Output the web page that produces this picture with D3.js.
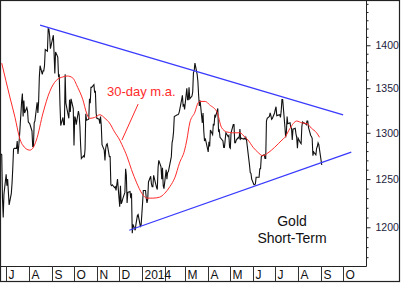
<!DOCTYPE html>
<html>
<head>
<meta charset="utf-8">
<style>
    body { margin: 0; background: #fff; }
    svg { display: block; font-family: Arial, 'Liberation Sans', sans-serif; }
    .y .domain { display: none; }
    .y .tick text { font-size: 10.5px; fill: #1c1c3c; }
    .y .tick line { stroke: #222; }
</style>
</head>
<body>
<svg width="401" height="283"></svg>
<script src="https://d3js.org/d3.v7.min.js"></script>
<script>
    // daily gold closes, one trading day each, from 2013-06-24 to 2014-09-02
    let firstDay = "2013-06-24"
    let lastDay = "2014-09-02"
    let holidays = ["2013-07-04", "2013-09-02", "2013-11-28", "2013-12-25", "2014-01-01", "2014-01-20",
        "2014-02-17", "2014-04-18", "2014-05-26", "2014-07-04", "2014-09-01"]

    let goldClose = [
        1277, 1276, 1230, 1210, 1234,
        1255, 1243, 1250, 1223, 1235, 1246, 1262, 1282, 1283, 1283, 1291, 1277, 1285, 1295, 1335, 1344, 1318, 1336, 1322, 1328, 1324, 1312,
        1311, 1310, 1302, 1285, 1285, 1311, 1313, 1334, 1322, 1334, 1363, 1376, 1366, 1370, 1370, 1376, 1395, 1393, 1420, 1419, 1411, 1396,
        1412, 1390, 1367, 1392, 1386, 1364, 1365, 1331, 1308, 1317, 1309, 1309, 1366, 1333, 1320, 1316, 1337, 1323, 1338, 1327,
        1286, 1318, 1316, 1309, 1324, 1320, 1307, 1286, 1272, 1275, 1273, 1282, 1321, 1314, 1315, 1338, 1333, 1351, 1351, 1354, 1345, 1347, 1322,
        1316, 1315, 1310, 1318, 1308, 1287, 1281, 1270, 1283, 1287, 1288, 1274, 1274, 1244, 1243, 1244, 1241, 1242, 1238, 1250,
        1221, 1243, 1224, 1226, 1229, 1236, 1261, 1254, 1225, 1236, 1237, 1230, 1235, 1194, 1203, 1197, 1203, 1212, 1213, 1201, 1202,
        1225, 1238, 1238, 1230, 1225, 1229, 1247, 1253, 1245, 1242, 1242, 1254, 1241, 1239, 1262, 1270, 1263, 1250, 1262, 1243, 1240,
        1260, 1250, 1257, 1258, 1262, 1274, 1289, 1293, 1301, 1318, 1320, 1320, 1321, 1324, 1337, 1342, 1330, 1331, 1326,
        1350, 1337, 1337, 1351, 1338, 1341, 1346, 1368, 1370, 1379, 1366, 1358, 1342, 1330, 1336, 1311, 1322, 1302, 1291, 1294, 1283,
        1279, 1290, 1285, 1303, 1298, 1310, 1308, 1320, 1318, 1327, 1302, 1303, 1295, 1291, 1284, 1284, 1292, 1300, 1296, 1297, 1284,
        1283, 1300, 1309, 1309, 1289, 1289, 1292, 1295, 1294, 1304, 1293, 1294, 1293, 1294, 1293, 1295, 1292, 1265, 1257, 1256, 1250,
        1244, 1244, 1245, 1252, 1252, 1252, 1261, 1261, 1274, 1275, 1276, 1272, 1272, 1313, 1316, 1318, 1322, 1319, 1315, 1316, 1322,
        1326, 1329, 1319, 1320, 1317, 1324, 1337, 1337, 1307, 1295, 1300, 1318, 1310, 1311, 1306, 1305, 1292, 1304, 1305, 1299, 1295, 1283,
        1294, 1289, 1288, 1307, 1312, 1311, 1310, 1309, 1313, 1313, 1306, 1297, 1296, 1294, 1275, 1279, 1276, 1283, 1285, 1289, 1287,
        1265
    ]

    // 30-day moving average
    let maDates = ["2013-06-25", "2013-07-06", "2013-07-13", "2013-07-19", "2013-07-23", "2013-08-02", "2013-08-06",
        "2013-08-11", "2013-08-20", "2013-08-29", "2013-09-07", "2013-09-16", "2013-09-22", "2013-09-29", "2013-10-06",
        "2013-10-13", "2013-10-18", "2013-10-22", "2013-10-29", "2013-11-05", "2013-11-12", "2013-11-18", "2013-11-25",
        "2013-12-02", "2013-12-05", "2013-12-12", "2013-12-18", "2013-12-25", "2014-01-01", "2014-01-08", "2014-01-16",
        "2014-01-25", "2014-02-01", "2014-02-08", "2014-02-15", "2014-02-21", "2014-02-28", "2014-03-03", "2014-03-07",
        "2014-03-14", "2014-03-18", "2014-03-21", "2014-03-28", "2014-04-03", "2014-04-13", "2014-04-19", "2014-04-26",
        "2014-05-04", "2014-05-14", "2014-05-21", "2014-05-25", "2014-06-01", "2014-06-07", "2014-06-14", "2014-06-21",
        "2014-06-30", "2014-07-10", "2014-07-14", "2014-07-21", "2014-07-30", "2014-08-06", "2014-08-13", "2014-08-19",
        "2014-08-26", "2014-08-30"]
    let maValues = [1379, 1340, 1317, 1295, 1287, 1281, 1283,
        1292, 1322, 1346, 1359, 1363, 1364, 1362, 1351,
        1337, 1322, 1316, 1317, 1320, 1316, 1311, 1301,
        1292, 1287, 1274, 1260, 1246, 1235, 1230, 1230,
        1231, 1235, 1242, 1252, 1267, 1281, 1292, 1311,
        1323, 1333, 1335, 1335, 1331, 1323, 1306, 1301,
        1300, 1300, 1295, 1292, 1284, 1279, 1275, 1278,
        1284, 1292, 1295, 1305, 1313, 1311, 1310, 1305,
        1300, 1295]

    // triangle trend lines
    let upperLine = [["2013-08-16", 1424], ["2014-10-01", 1320]]
    let lowerLine = [["2013-12-15", 1197], ["2014-10-12", 1279]]
    // pointer from the label down to the average
    let pointer = [["2013-12-27", 1332], ["2013-12-05", 1292]]

    let yMajor = [1200, 1250, 1300, 1350, 1400]
    let monthNames = ["J", "", "M", "A", "M", "J", "J", "A", "S", "O", "N", "D"]

    let width = 401
    let height = 283
    let margin = { top: 1, right: 35, bottom: 17, left: 1 }
    let plotRight = width - margin.right
    let plotBottom = height - margin.bottom

    let parse = d3.timeParse("%Y-%m-%d")
    let fmt = d3.timeFormat("%Y-%m-%d")
    let svg = d3.select("svg")

    let days = d3.timeDay.range(parse(firstDay), d3.timeDay.offset(parse(lastDay), 1))
        .filter(d => d.getDay() % 6 != 0 && !holidays.includes(fmt(d)))
    let prices = goldClose.map((v, i) => ({ date: days[i], value: v })).filter(d => d.date)
    let ma = maDates.map((d, i) => ({ date: parse(d), value: maValues[i] }))

    let x = d3.scaleTime()
        .domain([parse("2013-06-24"), parse("2014-11-01")])
        .range([margin.left, plotRight])

    let y = d3.scaleLog()
        .domain([1161.3, 1453.5])
        .range([plotBottom, margin.top])

    // outer frame
    svg.append("rect")
        .attr("x", 0.5).attr("y", 0.5)
        .attr("width", width - 2).attr("height", height - 2)
        .attr("fill", "white")
        .attr("stroke", "#222")
        .attr("stroke-width", 1.2)

    // right axis with minor ticks every 10
    let yMinor = d3.range(1170, 1451, 10).filter(v => !yMajor.includes(v))
    svg.append("g")
        .attr("class", "y")
        .attr("transform", `translate(${plotRight},0)`)
        .call(d3.axisRight(y).tickValues(yMinor).tickSize(2.5).tickFormat(""))
    svg.append("g")
        .attr("class", "y")
        .attr("transform", `translate(${plotRight},0)`)
        .call(d3.axisRight(y).tickValues(yMajor).tickSize(4.5).tickPadding(5).tickFormat(d3.format("d")))

    svg.append("line")
        .attr("x1", plotRight + 0.5).attr("x2", plotRight + 0.5)
        .attr("y1", 0).attr("y2", plotBottom + 0.5)
        .attr("stroke", "#222")
    svg.append("line")
        .attr("x1", 0).attr("x2", plotRight + 0.5)
        .attr("y1", plotBottom + 0.5).attr("y2", plotBottom + 0.5)
        .attr("stroke", "#222")

    // month boxes under the plot (February has no letter, the year sits there)
    let months = d3.timeMonth.range(parse("2013-07-01"), parse("2014-11-01"))
    let mg = svg.append("g")
    mg.selectAll("line")
        .data(months)
        .join("line")
        .attr("x1", d => Math.round(x(d)) + 0.5)
        .attr("x2", d => Math.round(x(d)) + 0.5)
        .attr("y1", plotBottom)
        .attr("y2", height - 2)
        .attr("stroke", "#333")
    mg.selectAll("text")
        .data(months)
        .join("text")
        .attr("x", d => Math.round(x(d)) + 2.5)
        .attr("y", height - 4.5)
        .attr("font-size", "12px")
        .attr("fill", "#111")
        .text(d => d.getMonth() == 0 ? d.getFullYear() : monthNames[d.getMonth()])

    let line = d3.line()
        .x(d => x(d.date))
        .y(d => y(d.value))

    let trend = d3.line()
        .x(d => x(parse(d[0])))
        .y(d => y(d[1]))

    svg.append("path")
        .datum(prices)
        .attr("fill", "none")
        .attr("stroke", "#111")
        .attr("stroke-width", 1.1)
        .attr("d", line)

    svg.append("path")
        .datum(ma)
        .attr("fill", "none")
        .attr("stroke", "#ff2a2a")
        .attr("stroke-width", 1)
        .attr("d", line.curve(d3.curveMonotoneX))

    svg.selectAll(".trend")
        .data([upperLine, lowerLine])
        .join("path")
        .attr("class", "trend")
        .attr("fill", "none")
        .attr("stroke", "#3a3aff")
        .attr("stroke-width", 1.3)
        .attr("d", trend)

    svg.append("path")
        .datum(pointer)
        .attr("fill", "none")
        .attr("stroke", "#ff2a2a")
        .attr("d", trend)

    svg.append("text").text("30-day m.a.")
        .attr("x", 107)
        .attr("y", 96)
        .attr("fill", "#ff2a2a")
        .attr("font-size", "13px")

    svg.append("text").text("Gold")
        .attr("x", 292)
        .attr("y", 226)
        .attr("text-anchor", "middle")
        .attr("fill", "#111")
        .attr("font-size", "14px")

    svg.append("text").text("Short-Term")
        .attr("x", 292)
        .attr("y", 243)
        .attr("text-anchor", "middle")
        .attr("fill", "#111")
        .attr("font-size", "14px")
</script>
</body>
</html>
